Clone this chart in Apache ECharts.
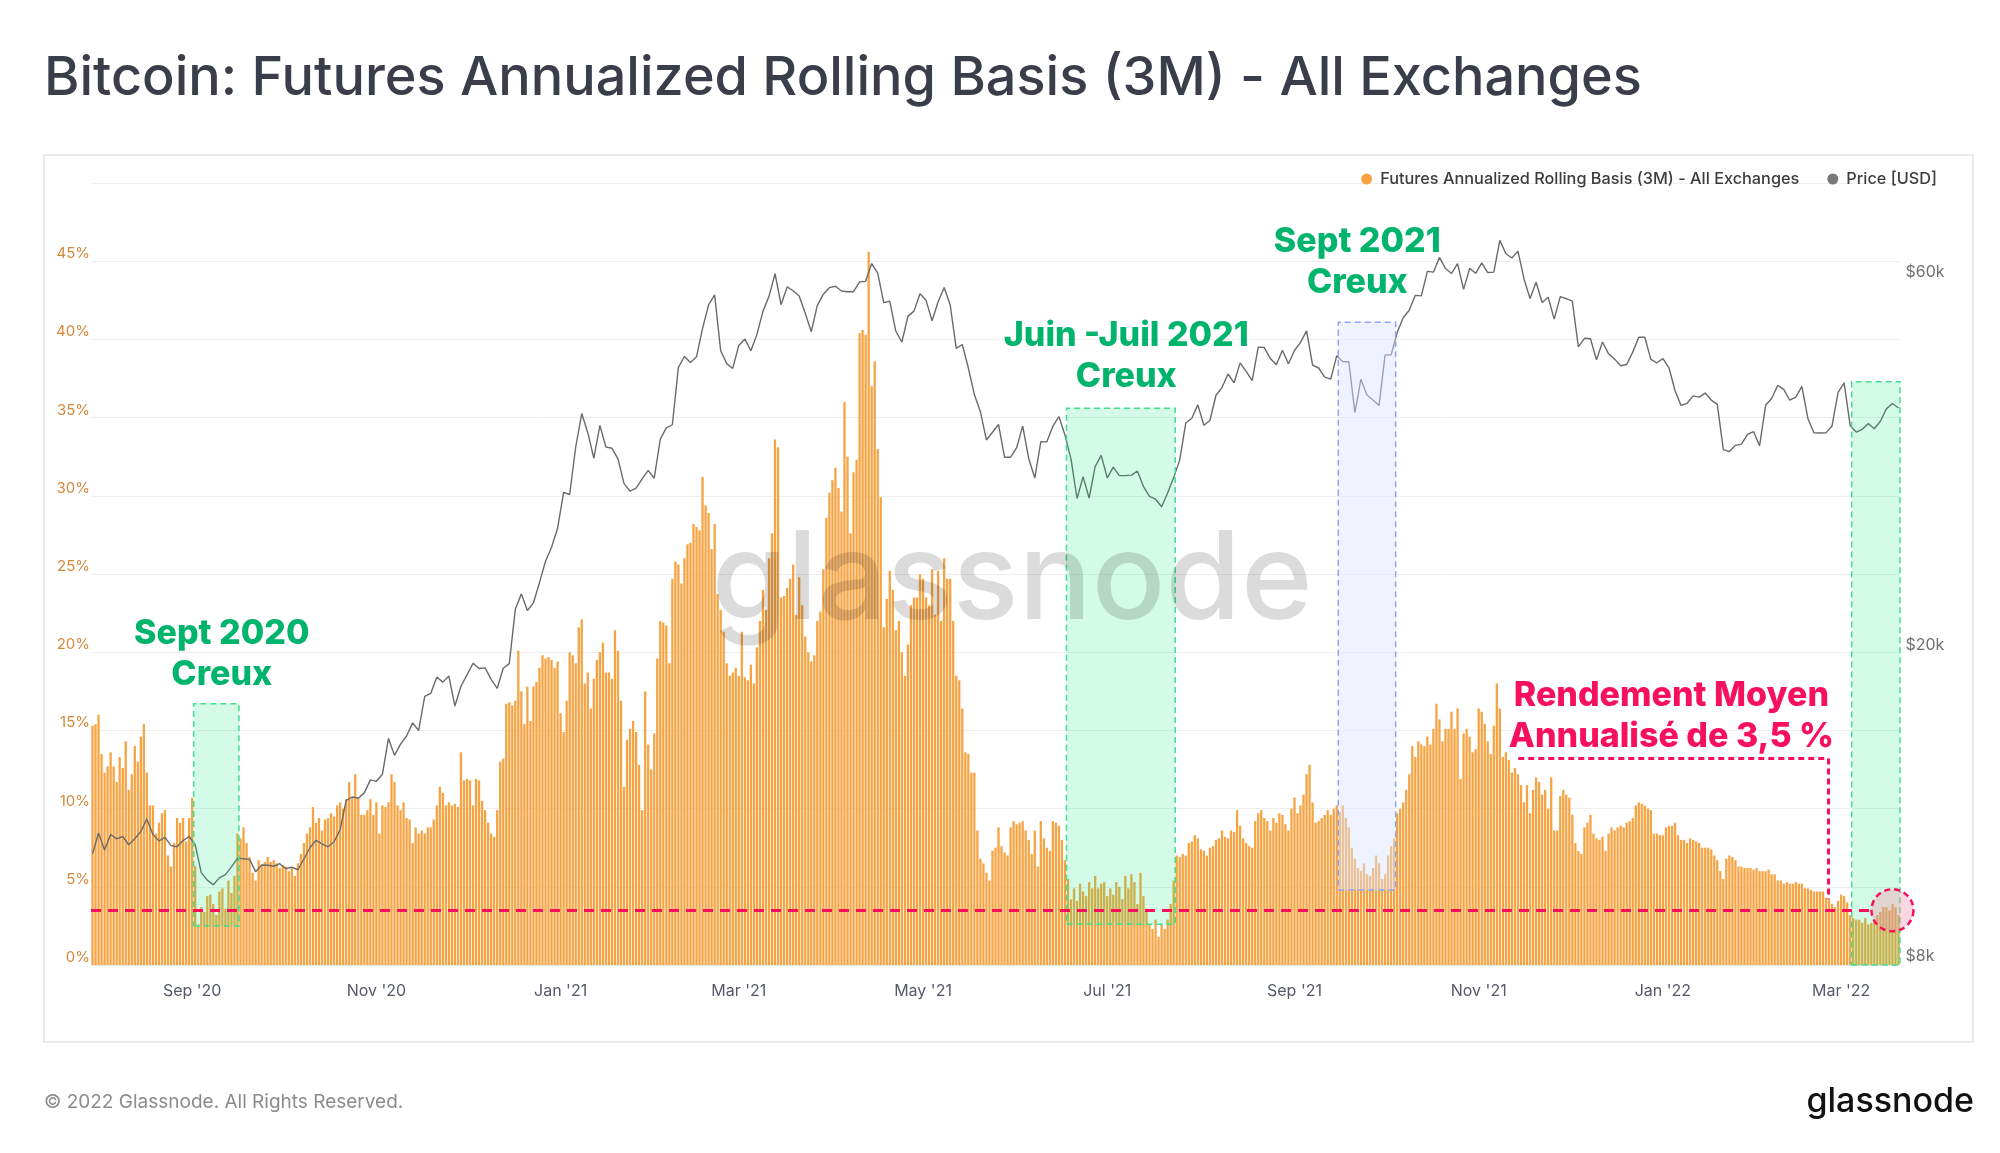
<!DOCTYPE html>
<html lang="fr">
<head>
<meta charset="UTF-8">
<title>Bitcoin: Futures Annualized Rolling Basis (3M) - All Exchanges</title>
<script src="https://cdn.jsdelivr.net/npm/echarts@6.0.0/dist/echarts.min.js"></script>
<style>
  html, body { margin: 0; padding: 0; background: #fff; }
  #main { width: 2000px; height: 1153px; }
</style>
</head>
<body>
<div id="main"></div>
<script>
// premier jour des séries (un bâton par jour)
var startDate = '2020-07-30';

// basis annualisé 3M, en %, un chiffre par jour
var basis = [
  // 30 juil - août 2020
  15.3, 15.4, 16.0, 13.5, 12.3, 12.7, 13.6, 12.7, 11.7, 13.3, 12.6, 14.3, 11.2, 12.2, 14.0, 13.0, 14.6, 15.4, 12.3, 10.2, 10.2, 8.4, 9.1, 9.7, 9.9, 7.0, 6.3, 7.8, 9.4, 9.1, 9.4, 7.9, 9.4,
  // sept 2020
  10.7, 6.3, 2.6, 3.7, 3.4, 4.4, 4.5, 3.9, 3.2, 4.7, 4.9, 3.6, 5.4, 4.6, 5.7, 8.4, 8.1, 8.8, 7.8, 6.9, 5.9, 5.4, 6.7, 6.4, 6.6, 6.9, 6.6, 6.7, 6.5, 6.2,
  // oct 2020
  6.4, 6.3, 6.0, 6.2, 5.7, 6.5, 7.1, 7.8, 8.4, 8.8, 10.1, 9.1, 9.4, 8.6, 9.3, 9.4, 9.7, 9.5, 10.2, 10.4, 10.0, 10.6, 11.7, 10.7, 12.2, 10.7, 9.6, 9.6, 9.9, 10.6, 9.6,
  // nov 2020
  10.4, 8.4, 10.2, 10.1, 10.4, 12.2, 11.7, 10.2, 9.9, 10.4, 9.4, 9.3, 7.8, 8.8, 8.4, 8.6, 8.4, 8.8, 8.8, 9.3, 10.2, 11.4, 11.0, 10.2, 10.4, 10.2, 10.3, 10.1, 13.6, 11.8,
  // déc 2020
  11.9, 11.8, 10.2, 11.9, 11.8, 10.5, 9.9, 9.1, 8.4, 8.2, 9.9, 13.0, 13.2, 16.7, 16.8, 16.6, 16.9, 20.1, 17.5, 15.4, 17.8, 15.6, 17.8, 18.1, 19.0, 19.8, 19.6, 19.7, 19.5, 19.0, 19.4,
  // janv 2021
  16.1, 14.9, 16.9, 20.0, 19.8, 19.3, 21.6, 22.1, 18.0, 18.7, 16.4, 18.3, 19.5, 20.0, 20.6, 18.7, 18.7, 18.3, 21.4, 20.1, 16.9, 11.4, 14.4, 15.1, 15.6, 14.9, 12.8, 9.9, 17.5, 14.1, 12.5,
  // févr 2021
  14.8, 19.6, 22.0, 21.9, 21.7, 19.3, 24.7, 25.8, 25.6, 24.4, 26.0, 26.9, 27.0, 28.2, 28.0, 27.8, 31.2, 29.4, 28.9, 26.6, 28.2, 23.7, 22.7, 21.3, 19.3, 18.5, 18.7, 19.0,
  // mars 2021
  18.5, 21.3, 18.4, 18.2, 19.2, 18.0, 20.3, 22.0, 24.0, 22.7, 26.0, 27.6, 33.6, 33.1, 23.5, 23.6, 24.1, 24.7, 25.6, 22.4, 24.8, 23.0, 21.0, 20.0, 19.4, 19.8, 22.0, 22.6, 25.3, 28.6, 30.2,
  // avr 2021
  31.0, 31.8, 30.5, 29.0, 36.0, 32.5, 27.6, 31.5, 32.3, 40.4, 40.6, 40.3, 45.6, 37.0, 38.6, 33.0, 29.9, 21.6, 23.4, 25.2, 24.0, 21.4, 22.0, 20.0, 18.5, 20.5, 23.0, 23.5, 23.5, 25.0,
  // mai 2021
  24.7, 23.5, 23.0, 25.3, 22.4, 25.2, 22.0, 26.0, 24.7, 24.7, 22.0, 18.5, 18.2, 16.4, 13.6, 13.5, 12.3, 12.3, 8.6, 6.8, 6.5, 5.9, 5.4, 7.3, 7.5, 8.8, 7.6, 7.2, 7.0, 8.8, 9.2,
  // juin 2021
  9.0, 9.1, 9.2, 8.6, 8.0, 7.1, 8.6, 6.3, 9.2, 8.1, 7.5, 7.3, 9.2, 9.1, 8.9, 8.0, 6.7, 5.5, 4.2, 4.9, 4.1, 5.2, 4.7, 4.4, 5.3, 4.9, 5.7, 4.9, 5.2, 5.3,
  // juil 2021
  4.4, 4.9, 4.5, 5.3, 5.0, 4.2, 5.7, 4.9, 5.8, 5.3, 3.9, 5.9, 4.4, 3.6, 2.6, 2.3, 2.9, 1.8, 2.6, 2.3, 2.9, 3.9, 5.4, 7.0, 6.9, 7.1, 7.0, 7.8, 7.9, 8.3, 8.1,
  // août 2021
  7.4, 7.3, 7.0, 7.5, 7.6, 8.0, 8.1, 8.6, 8.2, 8.1, 8.6, 8.5, 9.9, 8.9, 8.1, 7.8, 7.6, 7.5, 9.2, 9.7, 9.9, 9.4, 9.2, 8.6, 9.4, 9.1, 9.7, 9.6, 9.0, 8.6, 10.0,
  // sept 2021
  10.7, 9.7, 10.2, 10.9, 12.2, 12.8, 10.4, 9.1, 9.2, 9.4, 9.6, 9.9, 9.6, 10.0, 10.2, 9.8, 10.2, 9.4, 8.8, 7.5, 6.8, 6.2, 6.0, 6.5, 5.8, 5.7, 6.2, 7.0, 6.5, 5.5,
  // oct 2021
  5.8, 7.0, 7.6, 8.1, 9.7, 10.0, 10.4, 11.2, 12.2, 14.0, 13.3, 14.3, 14.1, 14.0, 14.6, 14.1, 15.1, 16.7, 15.7, 14.3, 15.1, 15.1, 16.2, 15.1, 16.4, 11.9, 14.8, 15.1, 14.6, 13.6, 13.8,
  // nov 2021
  16.4, 16.2, 15.4, 14.3, 13.5, 15.3, 18.0, 16.4, 13.3, 13.6, 13.1, 12.3, 12.6, 12.2, 11.5, 10.4, 11.5, 9.7, 11.2, 12.0, 11.7, 10.9, 11.2, 10.0, 12.0, 8.6, 8.6, 10.8, 11.2, 10.9,
  // déc 2021
  10.7, 9.6, 7.8, 7.3, 7.1, 8.8, 9.1, 9.6, 8.4, 8.1, 8.0, 8.2, 7.3, 8.4, 8.8, 8.6, 8.8, 8.9, 8.8, 9.1, 9.2, 9.4, 10.2, 10.4, 10.3, 10.2, 10.0, 9.9, 8.4, 8.4, 8.3,
  // janv 2022
  8.3, 8.8, 8.9, 8.9, 9.1, 8.3, 8.0, 8.0, 7.8, 8.1, 8.0, 7.9, 7.8, 7.5, 7.5, 7.5, 7.4, 7.0, 6.7, 6.0, 5.5, 6.8, 7.0, 6.9, 6.7, 6.3, 6.3, 6.2, 6.2, 6.2, 6.1,
  // févr 2022
  6.2, 6.0, 6.0, 6.0, 6.1, 5.8, 5.8, 5.4, 5.4, 5.2, 5.3, 5.2, 5.2, 5.3, 5.2, 5.2, 4.9, 4.9, 4.8, 4.7, 4.7, 4.7, 4.7, 4.3, 4.2, 3.9, 3.7, 4.1,
  // 1-20 mars 2022
  4.5, 4.4, 4.0, 3.2, 3.0, 2.9, 2.9, 2.7, 3.0, 2.6, 2.7, 2.9, 3.2, 3.4, 3.7, 3.7, 3.5, 3.9, 3.7, 3.2
];

// prix BTC en USD, un point tous les 2 jours depuis startDate
var priceStep = 2;
var price = [
  11100,
  11800, 11220, 11750, 11600, 11680, 11400, 11600, 11850, 12300, 11750, 11530, 11650, 11370, 11330, 11540, 11680,
  11400, 10500, 10270, 10130, 10340, 10440, 10680, 10950, 10940, 10920, 10530, 10740, 10730, 10700, 10780,
  10620, 10670, 10590, 10930, 11300, 11550, 11430, 11330, 11500, 11920, 12990, 13120, 13070, 13280, 13800,
  13740, 14030, 15590, 14830, 15330, 15700, 16320, 15960, 17650, 17800, 18680, 18400, 18730, 17150, 18180,
  18800, 19450, 19150, 19190, 18550, 18060, 19170, 19430, 22800, 23860, 22720, 23240, 24660, 26270, 27370, 28950,
  32170, 31970, 36770, 40580, 38350, 35570, 39190, 36770, 36630, 35500, 33010, 32290, 32570, 33470, 34320,
  33540, 37620, 38900, 39260, 46480, 48000, 47170, 47950, 52150, 55890, 57540, 48820, 47000, 46340,
  49590, 50540, 48830, 51230, 54820, 57300, 61240, 55900, 58910, 58250, 57350, 54530, 51640, 55800, 57670, 58780,
  59030, 58200, 58080, 58090, 59790, 59890, 63110, 61350, 56240, 56470, 51700, 50090, 54020, 54860, 57750,
  56630, 53330, 56400, 58800, 55860, 49150, 49720, 46430, 42910, 40780, 37540, 38400, 39290, 35680, 35680,
  36690, 39100, 35550, 33560, 37340, 37330, 39100, 40220, 38100, 35480, 31600, 33680, 31640, 34700, 35870,
  33570, 34650, 33800, 33800, 33850, 34240, 32730, 31800, 31530, 30840, 32110, 33600, 35400, 39460, 40010, 41630,
  39200, 39750, 42820, 43800, 45590, 44420, 47100, 45940, 44700, 49340, 49280, 47700, 46850, 48900, 46990,
  48850, 50040, 51760, 46800, 46400, 45160, 44900, 48120, 47260, 47260, 40690, 44880, 42850, 42230, 41560,
  48200, 48230, 51510, 53800, 55000, 57470, 57370, 61670, 61530, 64260, 62210, 61300, 63080, 58480, 62210, 61320,
  63220, 61460, 61530, 67570, 64950, 64150, 65460, 60310, 56940, 59730, 56280, 57150, 53590, 57250, 56900,
  56500, 49370, 50640, 50580, 47550, 50100, 48380, 47630, 46710, 46880, 48620, 50800, 50800, 47590, 47120,
  47690, 46430, 43420, 41560, 41820, 42740, 42590, 43100, 42220, 41680, 36480, 36280, 36950, 37080, 38170, 38480,
  36900, 41570, 42410, 44080, 43570, 42200, 42590, 43960, 40000, 38350, 38320, 38330, 39120, 43190,
  44420, 39150, 38420, 38740, 39390, 38800, 39670, 41140, 41790, 41250
];

var tickDates = ['2020-09-01', '2020-11-01', '2021-01-01', '2021-03-01', '2021-05-01',
                 '2021-07-01', '2021-09-01', '2021-11-01', '2022-01-01', '2022-03-01'];
var tickLabels = ["Sep '20", "Nov '20", "Jan '21", "Mar '21", "May '21",
                  "Jul '21", "Sep '21", "Nov '21", "Jan '22", "Mar '22"];

var priceTicks = [8000, 20000, 60000];
var priceTickLabels = ['$8k', '$20k', '$60k'];

// rendement moyen annualisé (%)
var avgYield = 3.5;

// zones "creux" : du jour 'from' au jour 'to', entre deux niveaux de basis
var zones = [
  { from: '2020-09-02', to: '2020-09-16', low: 2.5, high: 16.7, kind: 'green' },
  { from: '2021-06-18', to: '2021-07-23', low: 2.6, high: 35.6, kind: 'green' },
  { from: '2021-09-16', to: '2021-10-04', low: 4.8, high: 41.1, kind: 'blue' },
  { from: '2022-03-05', to: '2022-03-20', low: 0, high: 37.3, kind: 'green' }
];

var notes = [
  { lines: ['Sept 2020', 'Creux'], day: 42.8, level: 19.85, red: false },
  { lines: ['Juin -Juil 2021', 'Creux'], day: 342.3, level: 38.9, red: false },
  { lines: ['Sept 2021', 'Creux'], day: 418.8, level: 44.9, red: false },
  { lines: ['Rendement Moyen', 'Annualisé de 3,5 %'], day: 522.8, level: 15.9, red: true }
];

var FONT = 'Inter, "Noto Sans", sans-serif';
var ORANGE = '#f6a443';
var GREEN = '#00b46b';
var RED = '#f7105c';
var BASIS_NAME = 'Futures Annualized Rolling Basis (3M) - All Exchanges';
var PRICE_NAME = 'Price [USD]';

var t0 = Date.parse(startDate + 'T00:00:00Z');
var days = basis.map(function (v, i) {
  return new Date(t0 + i * 86400000).toISOString().slice(0, 10);
});
var lastX = days.length - 0.5;   // bord droit de la grille, en jours

function isTick(index, value) {
  return tickDates.indexOf(value) !== -1;
}

var greenStyle = { color: 'rgba(0, 230, 110, 0.17)', borderColor: '#3fe08e', borderWidth: 1.5, borderType: [6, 4] };
var blueStyle = { color: 'rgba(220, 228, 255, 0.45)', borderColor: '#8fa3f3', borderWidth: 1.5, borderType: [6, 4] };

var myChart = echarts.init(document.getElementById('main'));

myChart.setOption({
  animation: false,
  backgroundColor: '#ffffff',
  title: {
    text: 'Bitcoin: Futures Annualized Rolling Basis (3M) - All Exchanges',
    left: 44,
    top: 52,
    padding: 0,
    textStyle: { fontFamily: FONT, fontSize: 54, fontWeight: 500, color: '#3a3e4b' }
  },
  legend: {
    data: [BASIS_NAME, PRICE_NAME],
    right: 63,
    top: 171,
    padding: 0,
    icon: 'circle',
    itemWidth: 11,
    itemHeight: 11,
    itemGap: 28,
    textStyle: { fontFamily: FONT, fontSize: 16.3, fontWeight: 500, color: '#3d3d3d', padding: [0, 0, 0, 3] }
  },
  grid: { left: 91, right: 100, top: 183, bottom: 188 },
  xAxis: [{
    type: 'category',
    data: days,
    boundaryGap: true,
    axisLine: { lineStyle: { color: '#e6e6e6' } },
    axisTick: { alignWithLabel: true, interval: isTick, length: 12, lineStyle: { color: '#e3e3e3' } },
    axisLabel: {
      interval: isTick,
      formatter: function (v) { return tickLabels[tickDates.indexOf(v)]; },
      margin: 18,
      color: '#55596a',
      fontSize: 16,
      fontFamily: FONT
    },
    splitLine: { show: false }
  }, {
    type: 'value',
    min: -0.5,
    max: lastX,
    show: false
  }],
  yAxis: [{
    type: 'value',
    min: 0,
    max: 50,
    interval: 5,
    position: 'left',
    axisLine: { show: false },
    axisTick: { show: false },
    splitLine: { lineStyle: { color: '#eeeeee' } },
    axisLabel: {
      formatter: function (v) { return v === 50 ? '' : v + '%'; },
      color: '#d4883a',
      fontSize: 15,
      fontFamily: FONT,
      margin: 1,
      verticalAlign: 'bottom'
    }
  }, {
    type: 'log',
    logBase: 10,
    min: 8000,
    max: 80000,
    position: 'right',
    show: false
  }],
  graphic: [
    {
      type: 'rect', z: -1, silent: true,
      shape: { x: 44, y: 155, width: 1929, height: 887 },
      style: { fill: 'none', stroke: '#e4e4e4', lineWidth: 1.5 }
    },
    {
      // filigrane
      type: 'text', x: 1012, y: 582, z: 50, silent: true,
      style: { text: 'glassnode', fontFamily: FONT, fontSize: 122, fontWeight: 500,
               fill: 'rgba(0, 0, 0, 0.14)', align: 'center', verticalAlign: 'middle' }
    },
    {
      type: 'text', x: 44, y: 1102, silent: true,
      style: { text: '© 2022 Glassnode. All Rights Reserved.', fontFamily: FONT, fontSize: 19,
               fill: '#8b8b8b', verticalAlign: 'middle' }
    },
    {
      type: 'text', x: 1974, y: 1102, silent: true,
      style: { text: 'glassnode', fontFamily: FONT, fontSize: 34, fontWeight: 500,
               fill: '#111111', align: 'right', verticalAlign: 'middle' }
    }
  ],
  series: [{
    name: BASIS_NAME,
    type: 'bar',
    data: basis,
    barCategoryGap: '24%',
    itemStyle: { color: ORANGE },
    z: 2
  }, {
    name: PRICE_NAME,
    type: 'line',
    xAxisIndex: 1,
    yAxisIndex: 1,
    data: price.map(function (p, k) { return [k * priceStep, p]; }),
    symbol: 'none',
    lineStyle: { color: '#6a6a6a', width: 1.4 },
    itemStyle: { color: '#787878' },
    z: 3,
    // étiquettes de l'axe des prix (échelle log)
    markPoint: {
      symbol: 'circle',
      symbolSize: 1,
      itemStyle: { color: 'rgba(0,0,0,0)' },
      label: {
        show: true, position: 'right', distance: 5, offset: [0, -9],
        formatter: '{b}', color: '#707070', fontSize: 16, fontFamily: FONT
      },
      data: priceTicks.map(function (v, i) { return { name: priceTickLabels[i], coord: [lastX, v] }; })
    }
  }, {
    // zones de creux
    type: 'line',
    xAxisIndex: 1,
    yAxisIndex: 0,
    data: [],
    silent: true,
    markArea: {
      z: 5,
      silent: true,
      data: zones.map(function (zn) {
        return [
          { coord: [days.indexOf(zn.from) - 0.5, zn.low], itemStyle: zn.kind === 'blue' ? blueStyle : greenStyle },
          { coord: [days.indexOf(zn.to) + 0.5, zn.high] }
        ];
      })
    }
  }, {
    // rendement moyen : ligne pointillée + cercle
    type: 'line',
    xAxisIndex: 1,
    yAxisIndex: 0,
    data: [],
    silent: true,
    markLine: {
      z: 6,
      silent: true,
      symbol: ['none', 'none'],
      label: { show: false },
      lineStyle: { color: RED, width: 3, type: [10, 7] },
      data: [[{ coord: [-0.5, avgYield] }, { coord: [589.4, avgYield] }]]
    },
    markPoint: {
      z: 6,
      silent: true,
      symbol: 'circle',
      symbolSize: 42,
      itemStyle: { color: 'rgba(245, 140, 175, 0.35)', borderColor: RED, borderWidth: 2.5, borderType: [6, 4] },
      label: { show: false },
      data: [{ coord: [596, avgYield] }]
    }
  }, {
    // liaison entre le texte rouge et le cercle
    type: 'line',
    xAxisIndex: 1,
    yAxisIndex: 0,
    data: [],
    silent: true,
    markLine: {
      z: 6,
      silent: true,
      symbol: ['none', 'none'],
      label: { show: false },
      lineStyle: { color: RED, width: 3, type: [6, 4] },
      data: [
        [{ coord: [472.1, 13.2] }, { coord: [574.8, 13.2] }],
        [{ coord: [574.8, 13.2] }, { coord: [574.8, 4.2] }]
      ]
    }
  }, {
    // annotations
    type: 'line',
    xAxisIndex: 1,
    yAxisIndex: 0,
    data: [],
    silent: true,
    markPoint: {
      z: 7,
      silent: true,
      symbol: 'circle',
      symbolSize: 1,
      itemStyle: { color: 'rgba(0,0,0,0)' },
      label: {
        show: true, position: 'inside', formatter: '{b}',
        fontFamily: FONT, fontSize: 34, fontWeight: 800, lineHeight: 41, align: 'center'
      },
      data: notes.map(function (n) {
        return { name: n.lines.join('\n'), coord: [n.day, n.level], label: { color: n.red ? RED : GREEN } };
      })
    }
  }]
});
</script>
</body>
</html>
